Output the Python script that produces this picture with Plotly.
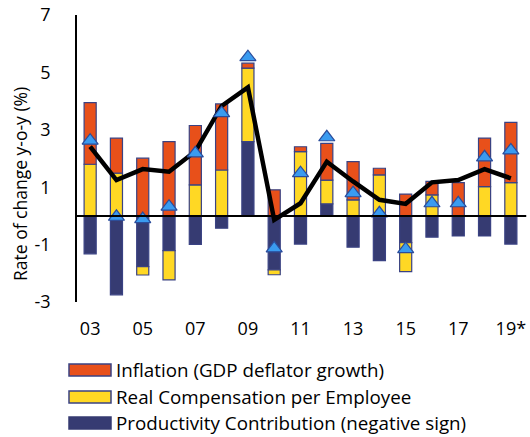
import plotly.graph_objects as go

years = ["03", "04", "05", "06", "07", "08", "09", "10", "11", "12", "13", "14", "15", "16", "17", "18", "19*"]
tick_labels = ["03", "05", "07", "09", "11", "13", "15", "17", "19*"]
tick_years = ["03", "05", "07", "09", "11", "13", "15", "17", "19*"]
y_tick_vals = [7, 5, 3, 1, -1, -3]
y_tick_labels = ["7", "5", "3", "1", "-1", "-3"]

productivity = [-1.32, -2.75, -1.77, -1.21, -0.99, -0.43, 2.59, -1.88, -0.98, 0.42, -1.09, -1.56, -0.93, -0.74, -0.70, -0.70, -0.98]
real_comp = [1.80, 1.49, -0.29, -1.02, 1.08, 1.60, 2.56, -0.17, 2.24, 0.83, 0.56, 1.43, -1.01, 0.73, 0.0, 1.02, 1.16]
inflation = [2.15, 1.22, 2.01, 2.59, 2.07, 2.30, 0.17, 0.91, 0.17, 1.28, 1.33, 0.23, 0.76, 0.47, 1.16, 1.69, 2.10]
ulc_markers = [2.62, -0.03, -0.11, 0.32, 2.18, 3.58, 5.53, -1.13, 1.49, 2.74, 0.79, 0.09, -1.16, 0.44, 0.44, 2.04, 2.28]
line_values = [2.41, 1.25, 1.63, 1.54, 2.25, 3.83, 4.48, -0.14, 0.44, 1.89, 1.20, 0.56, 0.42, 1.17, 1.25, 1.63, 1.31]

legend_names = ["Inflation (GDP deflator growth)", "Real Compensation per Employee", "Productivity Contribution (negative sign)"]

ORANGE = "#E8501A"
YELLOW = "#FFD824"
NAVY = "#363B72"
OUTLINE = "#3A4283"
TRI = "#3A9BF0"
FONT = "Open Sans"

fig = go.Figure()
bar_common = dict(width=0.46, marker_line=dict(color=OUTLINE, width=1.2), showlegend=False)
fig.add_trace(go.Bar(x=years, y=productivity, marker_color=NAVY, name=legend_names[2], **bar_common))
fig.add_trace(go.Bar(x=years, y=real_comp, marker_color=YELLOW, name=legend_names[1], **bar_common))
fig.add_trace(go.Bar(x=years, y=inflation, marker_color=ORANGE, name=legend_names[0], **bar_common))
fig.add_trace(go.Scatter(x=years, y=line_values, mode="lines", line=dict(color="black", width=4.5),
                         showlegend=False))
fig.add_trace(go.Scatter(x=years, y=ulc_markers, mode="markers",
                         marker=dict(symbol="triangle-up", size=14, color=TRI,
                                     line=dict(color="#2B4C9B", width=1.2)),
                         showlegend=False))

# zero line
fig.add_shape(type="line", xref="paper", yref="y", x0=0, x1=1.005, y0=0, y1=0,
              line=dict(color="black", width=2))

# plot area in pixels: x 77..524, y 15..302
PL, PR, PT, PB = 77, 524, 15, 302
PW, PH = PR - PL, PB - PT


def px(x):
    return (x - PL) / PW


def py(y):
    return (PB - y) / PH


legend_colors = [ORANGE, YELLOW, NAVY]
legend_outline = [OUTLINE, OUTLINE, NAVY]
rows_y = [370, 397, 423]
for name, col, oc, ry in zip(legend_names, legend_colors, legend_outline, rows_y):
    fig.add_shape(type="rect", xref="paper", yref="paper",
                  x0=px(69), x1=px(111), y0=py(ry + 6), y1=py(ry - 6),
                  line=dict(color=oc, width=1.5), fillcolor=col)
    fig.add_annotation(xref="paper", yref="paper", x=px(114), y=py(ry),
                       text=name, showarrow=False, xanchor="left", yanchor="middle",
                       font=dict(family=FONT, size=18.8, color="black"))

fig.add_annotation(xref="paper", yref="paper", x=px(20), y=py(184),
                   text="Rate of change y-o-y (%)", textangle=-90, showarrow=False,
                   xanchor="center", yanchor="middle",
                   font=dict(family=FONT, size=17.5, color="black"))

fig.update_layout(
    width=530, height=437,
    margin=dict(l=PL, r=530 - PR, t=PT, b=437 - PB),
    barmode="relative",
    plot_bgcolor="white", paper_bgcolor="white",
    font=dict(family=FONT, size=18, color="black"),
    xaxis=dict(type="category", categoryorder="array", categoryarray=years,
               range=[-0.5, 16.5], tickmode="array", tickvals=tick_years, ticktext=tick_labels,
               showgrid=False, showline=False, zeroline=False, ticks="", automargin=False,
               ticklabelstandoff=14, tickfont=dict(size=18)),
    yaxis=dict(range=[-3, 7], tickmode="array", tickvals=y_tick_vals, ticktext=y_tick_labels,
               showgrid=False, zeroline=False, automargin=False,
               showline=True, linecolor="black", linewidth=1.5, ticks="",
               ticklabelstandoff=21, tickfont=dict(size=18)),
)

fig.write_html("out.html", config={"displayModeBar": False},
               post_script="document.body.style.margin='0';document.body.style.overflow='hidden';")
